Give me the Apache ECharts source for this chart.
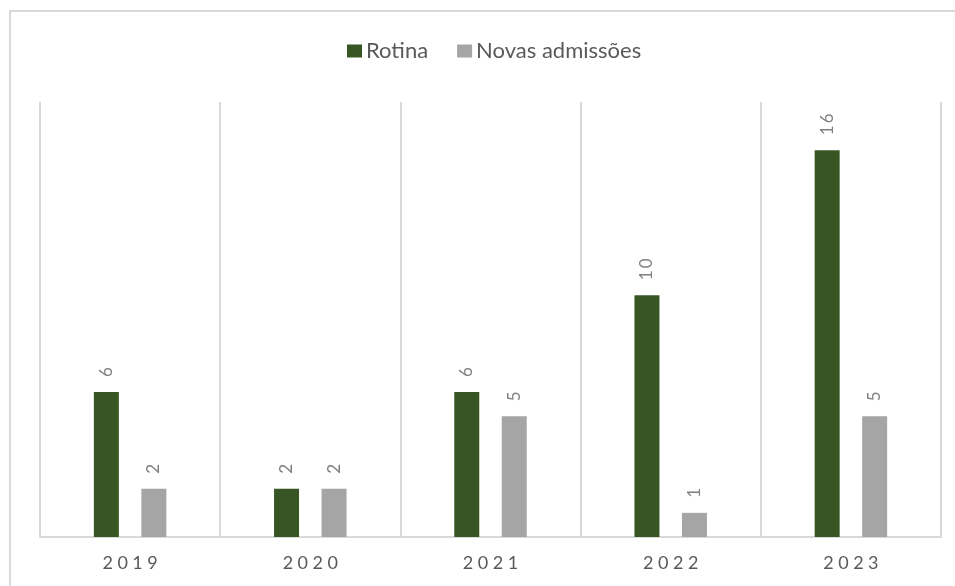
<!DOCTYPE html>
<html>
<head>
<meta charset="utf-8">
<script src="https://cdn.jsdelivr.net/npm/echarts@6/dist/echarts.min.js"></script>
<style>
  html, body { margin: 0; padding: 0; background: #fff; }
  #chart { width: 955px; height: 586px; }
</style>
</head>
<body>
<div id="chart"></div>
<script>
// Yearly counts per category
const years = ['2019', '2020', '2021', '2022', '2023'];
const rotina = [6, 2, 6, 10, 16];
const novasAdmissoes = [2, 2, 5, 1, 5];

const FONT = 'Lato, "Open Sans", sans-serif';
// spread characters a little, like the tracked axis text
const spaced = (s, gap) => String(s).split('').join(gap || '\u2009');

const chart = echarts.init(document.getElementById('chart'));
chart.setOption({
  animation: false,
  textStyle: { fontFamily: FONT },
  graphic: [{
    type: 'rect',
    shape: { x: 10, y: 11, width: 960, height: 600 },
    style: { fill: 'none', stroke: '#d9d9d9', lineWidth: 2 },
    silent: true,
    z: -1
  }],
  legend: {
    top: 35,
    left: 342,
    itemWidth: 15,
    itemHeight: 13,
    itemGap: 29,
    icon: 'rect',
    textStyle: { fontSize: 22, color: '#595959', fontFamily: FONT, padding: [0, 0, 0, -1] },
    data: ['Rotina', 'Novas admissões']
  },
  grid: { left: 40, right: 14, top: 102, bottom: 49, containLabel: false },
  xAxis: {
    type: 'category',
    data: years,
    axisLine: { lineStyle: { color: '#d9d9d9', width: 2 } },
    axisTick: { show: false },
    splitLine: { show: true, lineStyle: { color: '#d9d9d9', width: 2 } },
    axisLabel: {
      color: '#595959',
      fontSize: 18,
      margin: 17,
      fontFamily: FONT,
      formatter: v => spaced(v, '\u2005')
    }
  },
  yAxis: {
    type: 'value',
    min: 0,
    max: 18,
    show: false,
    splitLine: { show: false }
  },
  series: [
    {
      name: 'Rotina',
      type: 'bar',
      data: rotina,
      barWidth: 25,
      barGap: '90%',
      itemStyle: { color: '#375623' },
      label: {
        show: true,
        position: 'top',
        rotate: 90,
        align: 'left',
        verticalAlign: 'middle',
        distance: 15,
        color: '#808080',
        fontSize: 17,
        fontFamily: FONT,
        formatter: p => spaced(p.value)
      }
    },
    {
      name: 'Novas admissões',
      type: 'bar',
      data: novasAdmissoes,
      barWidth: 25,
      itemStyle: { color: '#a5a5a5' },
      label: {
        show: true,
        position: 'top',
        rotate: 90,
        align: 'left',
        verticalAlign: 'middle',
        distance: 15,
        color: '#808080',
        fontSize: 17,
        fontFamily: FONT,
        formatter: p => spaced(p.value)
      }
    }
  ]
});
</script>
</body>
</html>
